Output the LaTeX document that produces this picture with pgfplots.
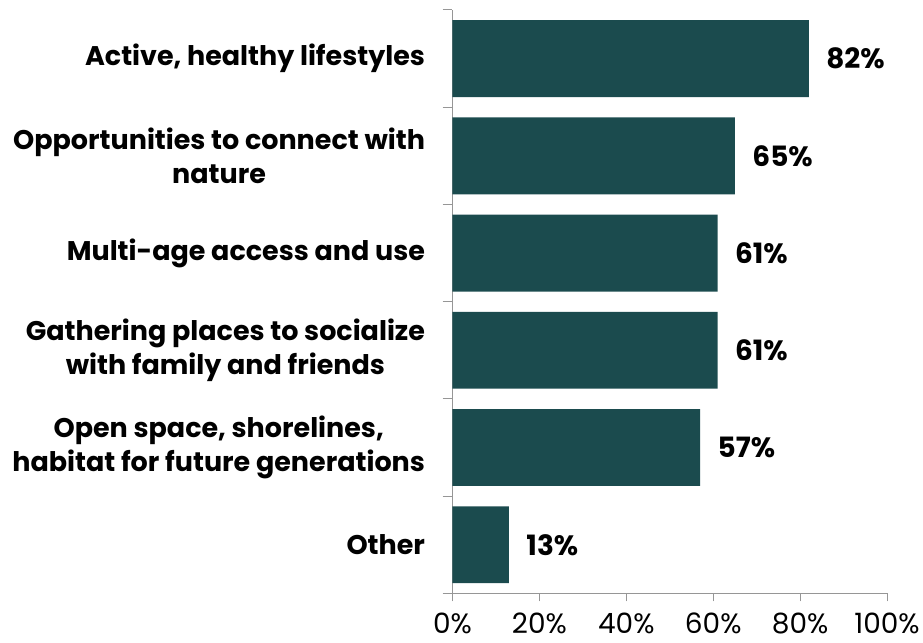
\documentclass[border=0pt]{standalone}
\usepackage{pgfplots}
\pgfplotsset{compat=1.18}
\usepackage{fontspec}
\setmainfont{Poppins}
\definecolor{barteal}{RGB}{27,75,78}
\definecolor{axisgray}{RGB}{150,150,150}
\begin{document}
\begin{tikzpicture}
\begin{axis}[
  at={(0,0)}, anchor=south west,
  scale only axis, width=435pt, height=584pt,
  xbar, bar width=77pt,
  xmin=0, xmax=100, ymin=-0.5, ymax=5.5,
  axis lines*=left, axis line style={axisgray, line width=1pt},
  /pgf/number format/assume math mode=true,
  xtick={0,20,...,100},
  xticklabels={0\%,20\%,40\%,60\%,80\%,100\%},
  xticklabel style={font=\fontsize{28}{30}\selectfont, yshift=-8pt},
  ytick={0,...,5},
  yticklabels={Other,
    {Open space, shorelines,\\habitat for future generations},
    {Gathering places to socialize\\with family and friends},
    Multi-age access and use,
    {Opportunities to connect with\\nature},
    {Active, healthy lifestyles}},
  yticklabel style={font=\fontsize{27}{34}\selectfont\bfseries, align=center, xshift=-16pt},
  major y tick style={draw=none},
  minor ytick={-0.5,0.5,...,5.5},
  minor tick length=10pt,
  tick align=outside,
  major tick length=8pt,
  tick style={axisgray, line width=1pt},
  nodes near coords={\pgfmathprintnumber{\pgfplotspointmeta}\%},
  nodes near coords style={font=\fontsize{28}{30}\selectfont\bfseries, xshift=14pt, black},
]
\addplot[fill=barteal, draw=none] coordinates {
  (13,0) (57,1) (61,2) (61,3) (65,4) (82,5)
};
\end{axis}
\useasboundingbox (-453pt,-49pt) rectangle (470pt,594pt);
\end{tikzpicture}
\end{document}
